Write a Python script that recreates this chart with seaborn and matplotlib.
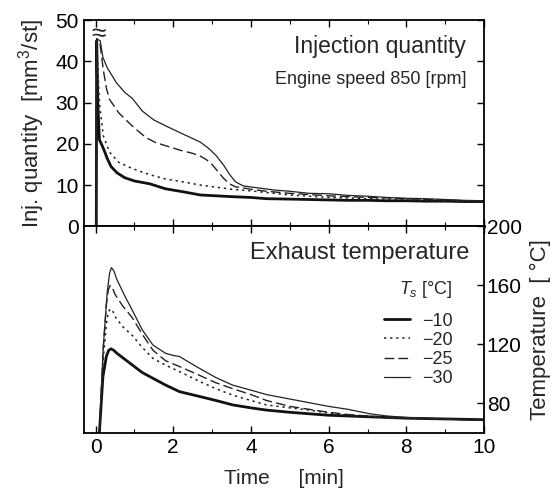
import matplotlib
matplotlib.use("Agg")
import matplotlib.pyplot as plt
import seaborn as sns
import pandas as pd
from matplotlib.ticker import MultipleLocator, FixedLocator

# ---------------- data ----------------
labels = ["\u221210", "\u221220", "\u221225", "\u221230"]

# Injection quantity [mm3/st]
inj_t_m10 = [0, 0.02, 0.03, 0.06, 0.1, 0.15, 0.22, 0.3, 0.4, 0.55, 0.75, 1.0, 1.4, 1.8, 2.3, 2.7, 3.1, 3.5, 4.0, 4.4, 5.0, 5.5, 6.0, 6.5, 7.0, 7.5, 8.0, 8.5, 9.0, 9.5, 10.0]
inj_v_m10 = [0, 0, 45, 30, 21, 20, 18.5, 16.5, 14.5, 13, 11.8, 11, 10.3, 9.1, 8.3, 7.6, 7.4, 7.2, 7.0, 6.7, 6.6, 6.5, 6.4, 6.3, 6.3, 6.2, 6.2, 6.1, 6.1, 6.0, 6.0]

inj_t_m20 = [0, 0.02, 0.03, 0.1, 0.2, 0.36, 0.6, 0.95, 1.4, 1.8, 2.3, 2.7, 3.1, 3.5, 4.0, 4.4, 5.0, 5.5, 6.0, 6.5, 7.0, 7.5, 8.0, 8.5, 9.0, 9.5, 10.0]
inj_v_m20 = [0, 0, 45, 30, 22, 18, 15.5, 14, 12.5, 11.5, 10.7, 10, 9.5, 9, 8.6, 8.2, 7.6, 7.3, 7.0, 6.9, 6.7, 6.6, 6.4, 6.3, 6.2, 6.1, 6.0]

inj_t_m25 = [0, 0.02, 0.03, 0.12, 0.2, 0.28, 0.36, 0.6, 0.95, 1.3, 1.55, 1.82, 2.2, 2.5, 2.7, 2.85, 3.0, 3.15, 3.3, 3.45, 3.6, 4.0, 4.4, 5.0, 5.5, 6.0, 6.5, 7.0, 7.5, 8.0, 8.5, 9.0, 9.5, 10.0]
inj_v_m25 = [0, 0, 45.5, 44, 38, 33.5, 30.8, 27.5, 24.3, 21.5, 20.3, 19.5, 18.4, 17.7, 17.0, 16.2, 15.0, 13.3, 11.6, 10.3, 9.6, 9.0, 8.5, 8.0, 7.7, 7.4, 7.2, 7.0, 6.9, 6.7, 6.5, 6.4, 6.2, 6.1]

inj_t_m30 = [0, 0.02, 0.03, 0.12, 0.19, 0.3, 0.54, 0.75, 0.95, 1.2, 1.5, 1.82, 2.2, 2.5, 2.7, 2.9, 3.1, 3.3, 3.45, 3.6, 3.8, 4.2, 4.6, 5.0, 5.5, 6.0, 6.5, 7.0, 7.5, 8.0, 8.5, 9.0, 9.5, 10.0]
inj_v_m30 = [0, 0, 45.5, 45, 41, 38.5, 34.8, 32.5, 31, 28, 25.8, 24.3, 22.6, 21.3, 20.4, 19.0, 17.2, 14.8, 12.6, 10.8, 9.8, 9.3, 8.8, 8.5, 8.0, 7.9, 7.5, 7.3, 7.0, 6.8, 6.7, 6.5, 6.3, 6.2]

# Exhaust temperature [degC]
tmp_t_m10 = [0.1, 0.19, 0.28, 0.34, 0.4, 0.47, 0.55, 0.75, 0.95, 1.2, 1.48, 1.8, 2.16, 2.68, 3.1, 3.53, 4.0, 4.4, 5.0, 6.0, 7.0, 8.0, 9.0, 10.0]
tmp_v_m10 = [60, 98, 112, 116, 117, 116, 114, 110, 106, 101, 97, 92.5, 88, 84.7, 82, 79, 77, 75.5, 74, 72, 71, 70, 69.5, 69]

tmp_t_m20 = [0.1, 0.2, 0.28, 0.33, 0.38, 0.44, 0.5, 0.7, 0.95, 1.2, 1.48, 1.8, 2.16, 2.68, 3.1, 3.53, 4.0, 4.4, 5.0, 5.5, 6.0, 6.5, 7.0, 8.0, 9.0, 10.0]
tmp_v_m20 = [60, 110, 134, 142, 144, 143, 139, 132, 126, 118, 110.5, 106, 101.6, 94.9, 90, 85.6, 82, 79, 77, 75.5, 73.5, 72, 71, 70, 69.5, 68.5]

tmp_t_m25 = [0.1, 0.2, 0.28, 0.33, 0.38, 0.44, 0.5, 0.7, 0.95, 1.2, 1.48, 1.8, 2.16, 2.68, 3.1, 3.53, 4.0, 4.4, 5.0, 5.5, 6.0, 6.5, 7.0, 7.5, 8.0, 9.0, 10.0]
tmp_v_m25 = [60, 118, 147, 157, 160, 158, 154, 146, 138, 127, 116, 109, 105, 99, 94, 90, 86, 82, 78, 76, 74, 72.5, 71.5, 70.5, 70, 69.5, 68.5]

tmp_t_m30 = [0.1, 0.2, 0.3, 0.36, 0.41, 0.47, 0.55, 0.75, 0.95, 1.2, 1.48, 1.8, 2.0, 2.16, 2.4, 2.68, 3.1, 3.53, 4.0, 4.4, 5.0, 5.5, 6.0, 6.5, 7.06, 7.5, 8.0, 9.0, 10.0]
tmp_v_m30 = [60, 118, 155, 168, 172, 170, 164, 153, 143, 130, 119.5, 114, 112.5, 111.8, 108, 103.7, 97.5, 92.4, 89, 86, 83, 80.5, 78, 76, 73, 71.5, 70.5, 69.5, 68.5]

inj_series = [(inj_t_m10, inj_v_m10), (inj_t_m20, inj_v_m20), (inj_t_m25, inj_v_m25), (inj_t_m30, inj_v_m30)]
tmp_series = [(tmp_t_m10, tmp_v_m10), (tmp_t_m20, tmp_v_m20), (tmp_t_m25, tmp_v_m25), (tmp_t_m30, tmp_v_m30)]

styles = [dict(color="#111111", lw=2.0, ls="-"),
          dict(color="#222222", lw=1.1, ls=(0, (1.5, 2.5))),
          dict(color="#222222", lw=1.0, ls=(0, (7, 3))),
          dict(color="#222222", lw=0.9, ls="-")]

# ---------------- plot ----------------
sns.set_style("ticks")
plt.rcParams["font.family"] = ["Liberation Sans", "DejaVu Sans"]
plt.rcParams["mathtext.fontset"] = "custom"
plt.rcParams["mathtext.it"] = "Liberation Sans:italic"
plt.rcParams["mathtext.rm"] = "Liberation Sans"

fig = plt.figure(figsize=(5.59, 4.92), dpi=100)
ax1 = fig.add_axes([0.150, 0.540, 0.716, 0.419])
ax2 = fig.add_axes([0.150, 0.120, 0.716, 0.420], sharex=ax1)

for (t, v), st, lab in zip(inj_series, styles, labels):
    df = pd.DataFrame({"t": t, "v": v})
    sns.lineplot(data=df, x="t", y="v", ax=ax1, color=st["color"], linewidth=st["lw"],
                 linestyle=st["ls"], estimator=None, sort=False)

for (t, v), st, lab in zip(tmp_series, styles, labels):
    df = pd.DataFrame({"t": t, "v": v})
    sns.lineplot(data=df, x="t", y="v", ax=ax2, color=st["color"], linewidth=st["lw"],
                 linestyle=st["ls"], estimator=None, sort=False, label=lab)

ax1.set_xlim(-0.3, 10)
ax1.set_ylim(0, 50)
ax2.set_ylim(60, 200)

for ax in (ax1, ax2):
    for s in ax.spines.values():
        s.set_visible(True)
        s.set_linewidth(1.3)
        s.set_color("black")
    ax.xaxis.set_major_locator(MultipleLocator(2))
    ax.xaxis.set_minor_locator(MultipleLocator(1))
    ax.tick_params(which="both", direction="in", top=True, bottom=True, labelsize=15, colors="black")
    ax.tick_params(which="major", length=5, width=1)
    ax.tick_params(which="minor", length=3, width=0.8)
    ax.set_xlabel("")
    ax.set_ylabel("")

ax1.spines["bottom"].set_linewidth(2.0)
ax1.tick_params(labelbottom=False, left=True, right=True)
ax1.yaxis.set_major_locator(MultipleLocator(10))
ax1.set_ylabel("Inj. quantity  [mm$^3$/st]", fontsize=16, labelpad=6)

ax2.yaxis.set_major_locator(FixedLocator([80, 120, 160, 200]))
ax2.yaxis.tick_right()
ax2.yaxis.set_label_position("right")
ax2.tick_params(axis="y", left=False, right=True, labelleft=False, labelright=True, pad=2)
ax2.set_ylabel("Temperature  [ °C]", fontsize=16, labelpad=6)
ax2.set_xlabel("Time     [min]", fontsize=15, labelpad=9)

ax1.text(0.955, 0.87, "Injection quantity", transform=ax1.transAxes, ha="right", va="center", fontsize=16.5)
ax1.text(0.955, 0.71, "Engine speed 850 [rpm]", transform=ax1.transAxes, ha="right", va="center", fontsize=13)
ax1.text(0.08, 46.6, "\u2248", ha="center", va="center", fontsize=19)
ax2.text(0.962, 0.87, "Exhaust temperature", transform=ax2.transAxes, ha="right", va="center", fontsize=17)

leg = ax2.legend(title="$T_s$ [°C]", loc="upper right", bbox_to_anchor=(0.94, 0.78),
                 frameon=False, fontsize=13, title_fontsize=13, handlelength=1.4,
                 handletextpad=0.7, labelspacing=0.12, borderaxespad=0)
leg._legend_box.align = "right"
leg._legend_box.sep = 9

fig.savefig("out.png", dpi=100)
